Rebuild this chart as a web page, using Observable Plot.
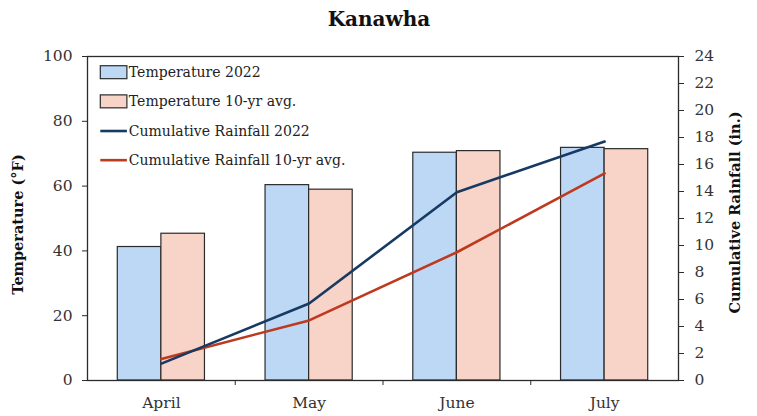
<!DOCTYPE html>
<html>
<head>
<meta charset="utf-8">
<script src="https://cdn.jsdelivr.net/npm/d3@7"></script>
<script src="https://cdn.jsdelivr.net/npm/@observablehq/plot@0.6"></script>
<style>
  html, body { margin: 0; padding: 0; background: #fff; }
  svg { display: block; }
</style>
</head>
<body>
<div id="chart"></div>
<script>
const title = "Kanawha";
const months = ["April", "May", "June", "July"];
const temp2022 = [41.2, 60.3, 70.3, 71.8];
const tempAvg = [45.3, 58.9, 70.8, 71.4];
const rain2022 = [1.25, 5.7, 13.95, 17.7];
const rainAvg = [1.6, 4.45, 9.5, 15.35];
const leftTicks = [0, 20, 40, 60, 80, 100];
const rightTicks = [0, 2, 4, 6, 8, 10, 12, 14, 16, 18, 20, 22, 24];
const seriesNames = ["Temperature 2022", "Temperature 10-yr avg.", "Cumulative Rainfall 2022", "Cumulative Rainfall 10-yr avg."];

const colors = {blueFill: "#bdd8f4", pinkFill: "#f7d3c8", navy: "#173a63", red: "#bd3a1f", ink: "#2b2b2b"};
const font = "DejaVu Serif, Liberation Serif, serif";

const TMAX = 100, RMAX = 24;
const r2t = v => v * TMAX / RMAX;
const barW = 0.295;

const bars = months.flatMap((m, i) => [
  {i, month: m, series: seriesNames[0], t: temp2022[i], x1: i + 0.5 - barW, x2: i + 0.5},
  {i, month: m, series: seriesNames[1], t: tempAvg[i], x1: i + 0.5, x2: i + 0.5 + barW}
]);
const lines = months.flatMap((m, i) => [
  {i, month: m, series: seriesNames[2], r: rain2022[i]},
  {i, month: m, series: seriesNames[3], r: rainAvg[i]}
]);

const legend = seriesNames.map((s, k) => ({s, k}));
const legendColor = [colors.blueFill, colors.pinkFill, colors.navy, colors.red];
const legX = 0.09, legY = k => 95.0 - k * 9.0;

const chart = Plot.plot({
  width: 757,
  height: 416,
  marginLeft: 87,
  marginRight: 79,
  marginTop: 56,
  marginBottom: 36,
  style: {fontFamily: font, fontSize: "15px", color: "#333", background: "#fff"},
  x: {domain: [0, months.length]},
  y: {domain: [0, TMAX]},
  marks: [
    Plot.rectY(bars, {x1: "x1", x2: "x2", y: "t", fill: d => d.series === seriesNames[0] ? colors.blueFill : colors.pinkFill, stroke: colors.ink, strokeWidth: 1.2}),
    Plot.line(lines.filter(d => d.series === seriesNames[3]), {x: d => d.i + 0.5, y: d => r2t(d.r), stroke: colors.red, strokeWidth: 2.6}),
    Plot.line(lines.filter(d => d.series === seriesNames[2]), {x: d => d.i + 0.5, y: d => r2t(d.r), stroke: colors.navy, strokeWidth: 2.6}),
    Plot.frame({stroke: colors.ink, strokeWidth: 1.3}),
    // left axis
    Plot.axisY(leftTicks, {anchor: "left", tickSize: 5, tickPadding: 10, fontSize: 15.5, label: null, stroke: colors.ink, fill: "#333"}),
    Plot.text(["Temperature (°F)"], {frameAnchor: "left", textAnchor: "middle", dx: -69, rotate: -90, fontWeight: "bold", fontSize: 14.5, fill: "#111", dy: 6}),
    // right axis (rainfall, in.)
    Plot.axisY(rightTicks.map(r2t), {anchor: "right", tickSize: 5, tickPadding: 11, fontSize: 15.5, label: null, tickFormat: d => d3.format("d")(Math.round(d * RMAX / TMAX)), stroke: colors.ink, fill: "#333"}),
    Plot.text(["Cumulative Rainfall (in.)"], {frameAnchor: "right", textAnchor: "middle", dx: 57, rotate: -90, fontWeight: "bold", fontSize: 14.5, fill: "#111", dy: -6}),
    // x axis
    Plot.axisX(months.map((m, i) => i + 0.5), {tickSize: 0, tickPadding: 16, fontSize: 15.5, tickFormat: d => months[Math.round(d - 0.5)], label: null, fill: "#333"}),
    Plot.axisX(d3.range(1, months.length), {tickSize: 5, tickFormat: () => "", label: null, stroke: colors.ink}),
    // title
    Plot.text([title], {frameAnchor: "top", dy: -45, dx: -4, fontWeight: "bold", fontSize: 20, fill: "#111"}),
    // legend
    Plot.rect(legend.filter(d => d.k < 2), {x1: legX, x2: legX + 0.18, y1: d => legY(d.k) - 2.0, y2: d => legY(d.k) + 2.0, fill: d => legendColor[d.k], stroke: colors.ink, strokeWidth: 1.2}),
    Plot.ruleY(legend.filter(d => d.k >= 2), {x1: legX, x2: legX + 0.18, y: d => legY(d.k), stroke: d => legendColor[d.k], strokeWidth: 2.6}),
    Plot.text(legend, {x: legX + 0.19, y: d => legY(d.k), text: "s", textAnchor: "start", fontSize: 14, fill: "#222"})
  ]
});
document.getElementById("chart").appendChild(chart);
</script>
</body>
</html>
